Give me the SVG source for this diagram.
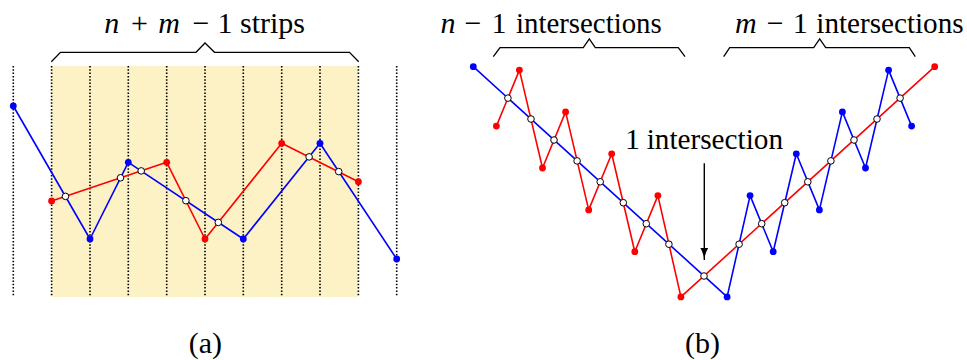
<svg xmlns="http://www.w3.org/2000/svg" width="967" height="360" viewBox="0 0 967 360">
<style>
.t{font-family:"Liberation Serif","Times New Roman",serif;font-size:30px;fill:#000}
.it{font-style:italic}
.grid{stroke:#000;stroke-width:1.6;stroke-dasharray:1.5 1.8}
.brace{fill:none;stroke:#000;stroke-width:1.3;stroke-linejoin:miter}
.bl{fill:none;stroke:#0000ff;stroke-width:1.6;stroke-linejoin:round}
.rl{fill:none;stroke:#ff0000;stroke-width:1.6;stroke-linejoin:round}
.bd{fill:#0000ff}
.rd{fill:#ff0000}
.x{fill:#fff;stroke:#000;stroke-width:1}
</style>
<defs>
<marker id="ah" markerUnits="userSpaceOnUse" markerWidth="14" markerHeight="10" refX="12" refY="4" orient="auto">
<path d="M0,0 Q4,3 12,4 Q4,5 0,8 Z" fill="#000"/>
</marker>
</defs>

<g id="panel-a">
<rect id="strips-band" x="51.6" y="66" width="306.8" height="231" fill="#fcf2c6"/>
<g id="grid-a">
<line class="grid" x1="13.3" y1="66" x2="13.3" y2="297"/>
<line class="grid" x1="51.6" y1="66" x2="51.6" y2="297"/>
<line class="grid" x1="90" y1="66" x2="90" y2="297"/>
<line class="grid" x1="128.3" y1="66" x2="128.3" y2="297"/>
<line class="grid" x1="166.7" y1="66" x2="166.7" y2="297"/>
<line class="grid" x1="205" y1="66" x2="205" y2="297"/>
<line class="grid" x1="243.3" y1="66" x2="243.3" y2="297"/>
<line class="grid" x1="281.7" y1="66" x2="281.7" y2="297"/>
<line class="grid" x1="320" y1="66" x2="320" y2="297"/>
<line class="grid" x1="358.4" y1="66" x2="358.4" y2="297"/>
<line class="grid" x1="396.7" y1="66" x2="396.7" y2="297"/>
</g>
<g id="brace-a">
<path class="brace" d="M51.3,61.7 L60.5,52.3 L196,52.3 L205,43 L214.5,52.3 L349.5,52.3 L358.7,61.7"/>
<text class="t it" x="111.8" y="33.3" text-anchor="middle">n</text>
<text class="t" x="139.5" y="33.3" text-anchor="middle">+</text>
<text class="t it" x="169" y="33.3" text-anchor="middle">m</text>
<text class="t" x="201" y="33.3" text-anchor="middle">−</text>
<text class="t" x="225" y="33.3" text-anchor="middle">1</text>
<text class="t" x="240" y="33.3" textLength="65" lengthAdjust="spacingAndGlyphs">strips</text>
</g>
<g id="connectors-a">
<polyline class="rl" points="51.6,201 166.7,162.3 205,239 281.7,143.3 358.4,181.7"/>
<polyline class="bl" points="13.3,106 90,239 128.3,162.3 243.3,239 320,143.3 396.7,259"/>
</g>
<g id="vertices-a">
<circle class="bd" cx="13.3" cy="106" r="3.4"/>
<circle class="bd" cx="90" cy="239" r="3.4"/>
<circle class="bd" cx="128.3" cy="162.3" r="3.4"/>
<circle class="bd" cx="243.3" cy="239" r="3.4"/>
<circle class="bd" cx="320" cy="143.3" r="3.4"/>
<circle class="bd" cx="396.7" cy="259" r="3.4"/>
<circle class="rd" cx="51.6" cy="201" r="3.4"/>
<circle class="rd" cx="166.7" cy="162.3" r="3.4"/>
<circle class="rd" cx="205" cy="239" r="3.4"/>
<circle class="rd" cx="281.7" cy="143.3" r="3.4"/>
<circle class="rd" cx="358.4" cy="181.7" r="3.4"/>
</g>
<g id="intersections-a">
<circle class="x" cx="65.5" cy="196.4" r="3.3"/>
<circle class="x" cx="120.5" cy="177.8" r="3.3"/>
<circle class="x" cx="141.2" cy="170.9" r="3.3"/>
<circle class="x" cx="185.9" cy="200.7" r="3.3"/>
<circle class="x" cx="218.3" cy="222.4" r="3.3"/>
<circle class="x" cx="309.1" cy="156.9" r="3.3"/>
<circle class="x" cx="338.7" cy="171.6" r="3.3"/>
</g>
<text id="label-a" class="t" x="205.3" y="353" text-anchor="middle" font-size="28">(a)</text>
</g>

<g id="panel-b">
<g id="brace-left">
<path class="brace" d="M493.3,56.7 L500,47.7 L583.3,47.7 L589.3,39 L595.3,47.7 L678.3,47.7 L685,56.7"/>
<text class="t it" x="448" y="33.3" text-anchor="middle">n</text>
<text class="t" x="473" y="33.3" text-anchor="middle">−</text>
<text class="t" x="499" y="33.3" text-anchor="middle">1</text>
<text class="t" x="516" y="33.3" textLength="145.7" lengthAdjust="spacingAndGlyphs">intersections</text>
</g>
<g id="brace-right">
<path class="brace" d="M723.7,56.7 L729.7,47.7 L813.7,47.7 L819.7,39 L825.7,47.7 L909.3,47.7 L915.3,56.7"/>
<text class="t it" x="745.8" y="33.3" text-anchor="middle">m</text>
<text class="t" x="775.3" y="33.3" text-anchor="middle">−</text>
<text class="t" x="800.3" y="33.3" text-anchor="middle">1</text>
<text class="t" x="816.3" y="33.3" textLength="147.3" lengthAdjust="spacingAndGlyphs">intersections</text>
</g>
<g id="center-label">
<text class="t" x="632.5" y="149" text-anchor="middle">1</text>
<text class="t" x="646.7" y="149" textLength="136.3" lengthAdjust="spacingAndGlyphs">intersection</text>
</g>
<g id="connectors-b">
<line x1="704.3" y1="163.3" x2="704.3" y2="260" stroke="#000" stroke-width="1.4" marker-end="url(#ah)"/>
<polyline class="rl" points="496.4,126.1 519.4,70.1 542.5,168 565.6,111.9 588.7,209.9 611.7,153.8 634.8,251.7 657.9,195.6 680.9,296.9 934.7,66.7"/>
<polyline class="bl" points="473.3,66.7 727.1,296.9 750.1,195.6 773.2,251.7 796.3,153.8 819.4,209.9 842.4,111.9 865.5,168 888.6,70.1 911.6,126.1"/>
</g>
<g id="vertices-b">
<circle class="rd" cx="496.4" cy="126.1" r="3.4"/>
<circle class="rd" cx="519.4" cy="70.1" r="3.4"/>
<circle class="rd" cx="542.5" cy="168" r="3.4"/>
<circle class="rd" cx="565.6" cy="111.9" r="3.4"/>
<circle class="rd" cx="588.7" cy="209.9" r="3.4"/>
<circle class="rd" cx="611.7" cy="153.8" r="3.4"/>
<circle class="rd" cx="634.8" cy="251.7" r="3.4"/>
<circle class="rd" cx="657.9" cy="195.6" r="3.4"/>
<circle class="rd" cx="680.9" cy="296.9" r="3.4"/>
<circle class="rd" cx="934.7" cy="66.7" r="3.4"/>
<circle class="bd" cx="473.3" cy="66.7" r="3.4"/>
<circle class="bd" cx="727.1" cy="296.9" r="3.4"/>
<circle class="bd" cx="750.1" cy="195.6" r="3.4"/>
<circle class="bd" cx="773.2" cy="251.7" r="3.4"/>
<circle class="bd" cx="796.3" cy="153.8" r="3.4"/>
<circle class="bd" cx="819.4" cy="209.9" r="3.4"/>
<circle class="bd" cx="842.4" cy="111.9" r="3.4"/>
<circle class="bd" cx="865.5" cy="168" r="3.4"/>
<circle class="bd" cx="888.6" cy="70.1" r="3.4"/>
<circle class="bd" cx="911.6" cy="126.1" r="3.4"/>
</g>
<g id="intersections-b">
<circle class="x" cx="507.9" cy="98.1" r="3.3"/>
<circle class="x" cx="531" cy="119" r="3.3"/>
<circle class="x" cx="554" cy="140" r="3.3"/>
<circle class="x" cx="577.1" cy="160.9" r="3.3"/>
<circle class="x" cx="600.2" cy="181.8" r="3.3"/>
<circle class="x" cx="623.3" cy="202.7" r="3.3"/>
<circle class="x" cx="646.3" cy="223.7" r="3.3"/>
<circle class="x" cx="668.9" cy="244.2" r="3.3"/>
<circle class="x" cx="704" cy="276" r="3.3"/>
<circle class="x" cx="739.1" cy="244.2" r="3.3"/>
<circle class="x" cx="761.7" cy="223.7" r="3.3"/>
<circle class="x" cx="784.7" cy="202.7" r="3.3"/>
<circle class="x" cx="807.8" cy="181.8" r="3.3"/>
<circle class="x" cx="830.9" cy="160.9" r="3.3"/>
<circle class="x" cx="854" cy="140" r="3.3"/>
<circle class="x" cx="877" cy="119" r="3.3"/>
<circle class="x" cx="900.1" cy="98.1" r="3.3"/>
</g>
<text id="label-b" class="t" x="702.5" y="353" text-anchor="middle" font-size="28">(b)</text>
</g>
</svg>
